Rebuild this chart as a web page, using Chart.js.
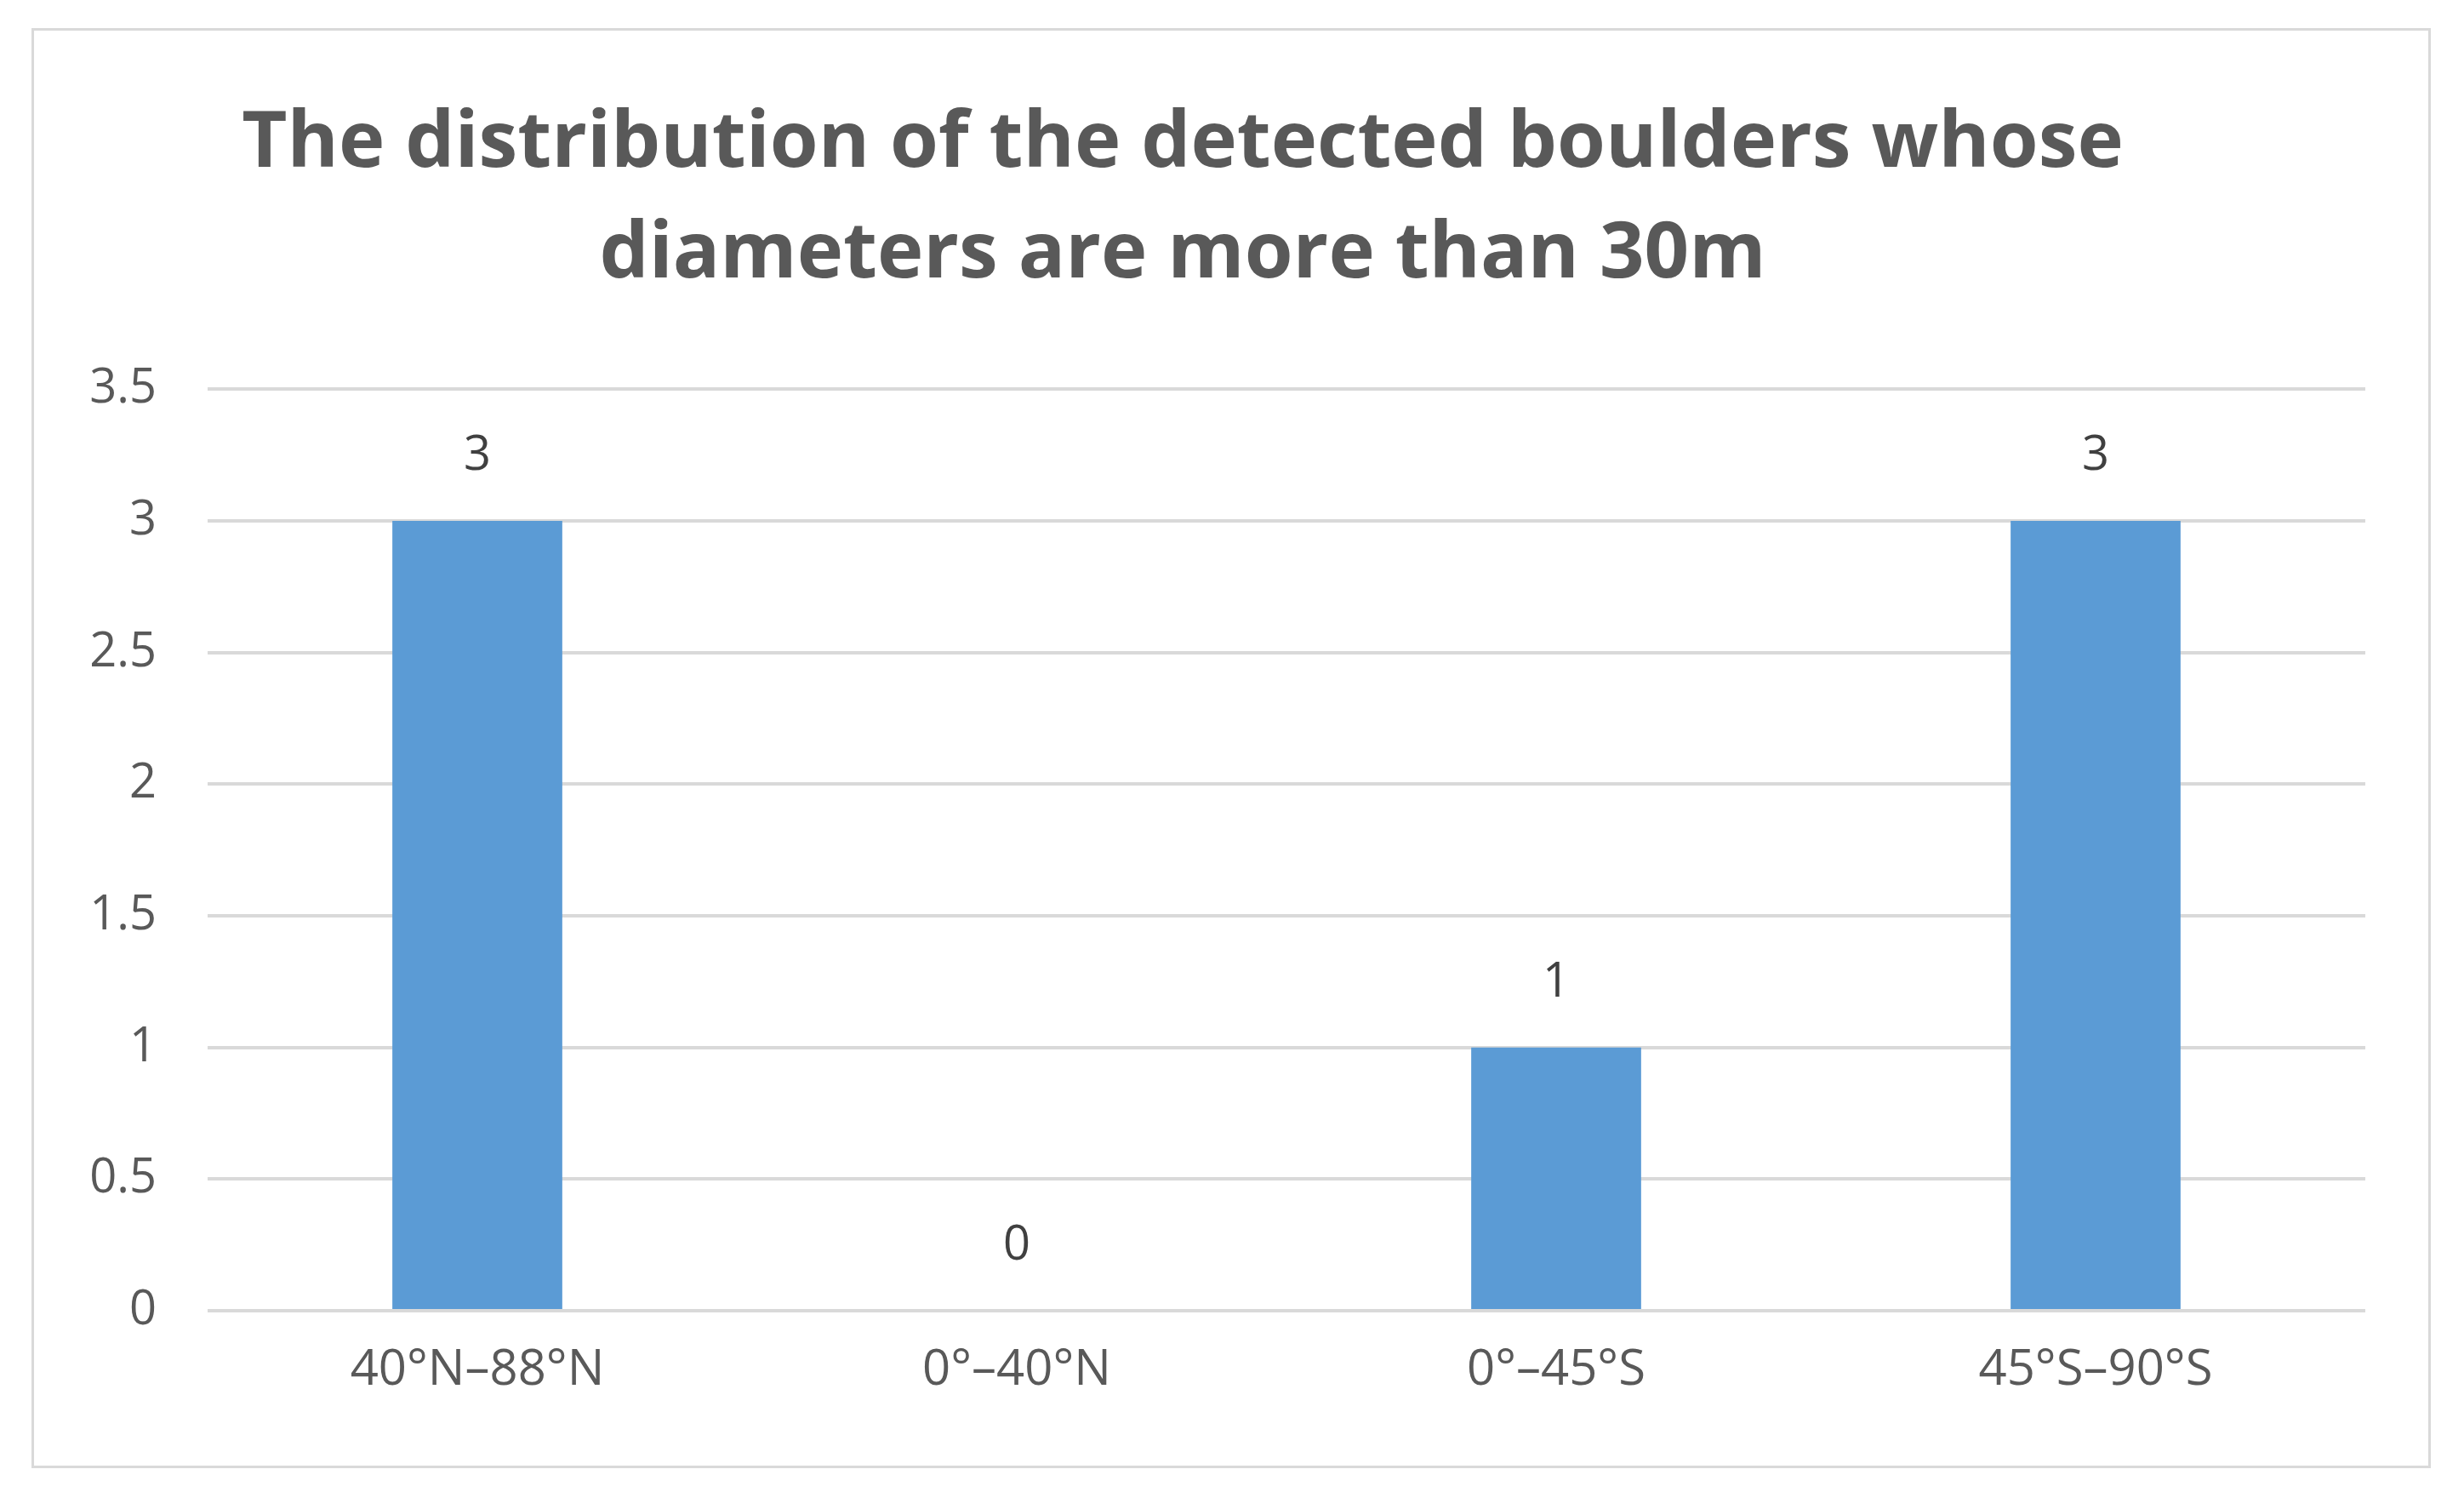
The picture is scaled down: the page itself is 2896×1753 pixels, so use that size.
<!DOCTYPE html>
<html><head><meta charset="utf-8">
<script src="https://cdn.jsdelivr.net/npm/chart.js@4"></script>
<style>
html,body{margin:0;padding:0;background:#fff;}
#wrap{position:relative;width:2896px;height:1753px;}
#frame{position:absolute;left:37px;top:33px;width:2820px;height:1692px;border:3px solid #D9D9D9;box-sizing:border-box;}
canvas{position:absolute;left:0;top:0;}
</style></head><body>
<div id="wrap"><div id="frame"></div><canvas id="c" width="2896" height="1753"></canvas></div>
<script>
const categories = ["40°N–88°N","0°–40°N","0°–45°S","45°S–90°S"];
const values = [3,0,1,3];
const titleLines = ["The distribution of the detected boulders whose","diameters are more than 30m"];
const FONT = '"Open Sans", sans-serif';

const labelPlugin = {
  id:'vals',
  afterDatasetsDraw(chart){
    const ctx = chart.ctx;
    const meta = chart.getDatasetMeta(0);
    ctx.save();
    ctx.font = '56px ' + FONT;
    ctx.fillStyle = '#404040';
    ctx.textAlign = 'center';
    ctx.textBaseline = 'middle';
    meta.data.forEach((bar,i)=>{
      ctx.fillText(String(values[i]), bar.x, bar.y - 76);
    });
    ctx.restore();
  }
};

new Chart(document.getElementById('c'), {
  type:'bar',
  data:{labels:categories, datasets:[{data:values, backgroundColor:'#5B9BD5', categoryPercentage:1, barPercentage:0.315}]},
  options:{
    responsive:false, animation:false,
    layout:{padding:{left:0,right:116,top:0,bottom:0}},
    plugins:{
      legend:{display:false}, tooltip:{enabled:false},
      title:{display:true, text:titleLines, color:'#595959',
        font:{size:92, weight:'bold', family:FONT, lineHeight:1.42},
        padding:{top:104,bottom:92}}
    },
    scales:{
      y:{min:0,max:3.5,
        ticks:{stepSize:0.5,color:'#595959',padding:60,font:{size:56,family:FONT},
          callback:(v)=>String(v)},
        grid:{color:'#D9D9D9',lineWidth:4,drawTicks:false},
        border:{display:false},
        afterFit(s){s.width=244;}
      },
      x:{
        ticks:{color:'#595959',padding:28,font:{size:58,family:FONT}},
        grid:{display:false},
        border:{display:false},
        afterFit(s){s.height=213;}
      }
    }
  },
  plugins:[labelPlugin]
});
</script>
</body></html>
